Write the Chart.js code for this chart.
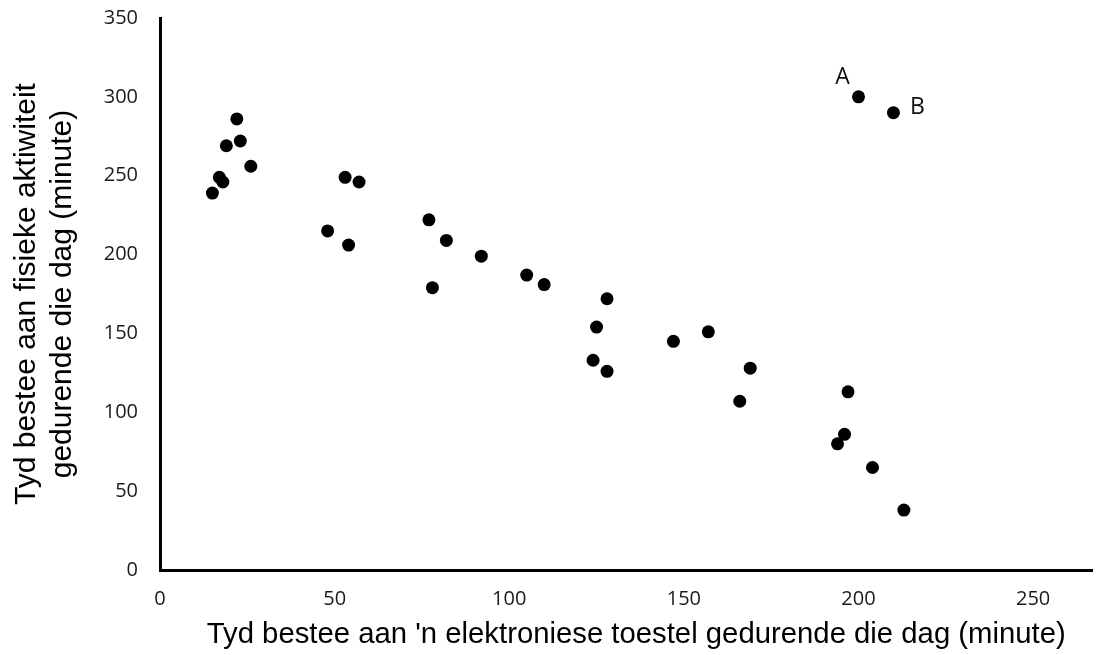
<!DOCTYPE html>
<html>
<head>
<meta charset="utf-8">
<script src="https://cdn.jsdelivr.net/npm/chart.js@4"></script>
<style>
  html, body { margin: 0; padding: 0; background: #fff; }
  #wrap { width: 1099px; height: 655px; }
</style>
</head>
<body>
<div id="wrap"><canvas id="myChart"></canvas></div>
<script>
// time on device (x) and physical activity (y), in minutes
const xVals = [22, 19, 23, 26, 17, 18, 15, 53, 57, 48, 54, 77, 82, 92, 78, 105, 110, 128, 125, 124, 128, 147, 157, 169, 166, 197, 196, 194, 204, 213, 200, 210];
const yVals = [286, 269, 272, 256, 249, 246, 239, 249, 246, 215, 206, 222, 209, 199, 179, 187, 181, 172, 154, 133, 126, 145, 151, 128, 107, 113, 86, 80, 65, 38, 300, 290];
// the two labelled points are the last two
const markNames = ['A', 'B'];
const xTitle = "Tyd bestee aan 'n elektroniese toestel gedurende die dag (minute)";
const yTitle = ['Tyd bestee aan fisieke aktiwiteit', 'gedurende die dag (minute)'];

let points = [];
for (let i = 0; i < xVals.length; i++) {
	points.push({x: xVals[i], y: yVals[i]});
}

//writes A and B next to their points, and the x title (a bit right of centre, like the original)
const markPlugin = {
	id: 'marks',
	afterDatasetsDraw(chart) {
		const ctx = chart.ctx;
		const els = chart.getDatasetMeta(0).data;
		const offsets = [[-16, -19], [24, -5]];
		ctx.save();
		ctx.font = '23px "Open Sans"';
		ctx.fillStyle = '#111';
		ctx.textAlign = 'center';
		ctx.textBaseline = 'middle';
		for (let i = 0; i < markNames.length; i++) {
			const el = els[els.length - markNames.length + i];
			ctx.fillText(markNames[i], el.x + offsets[i][0], el.y + offsets[i][1]);
		}
		const area = chart.chartArea;
		ctx.font = '29.3px "Liberation Sans", Arial';
		ctx.fillStyle = '#000';
		ctx.textBaseline = 'alphabetic';
		ctx.fillText(xTitle, (area.left + area.right) / 2 + 10, 643);
		ctx.restore();
	}
};

const ctx = document.getElementById('myChart');
const myChart = new Chart(ctx, {
	type: 'scatter',
	data: {
		datasets: [{
			data: points,
			backgroundColor: '#000',
			borderColor: '#000',
			pointRadius: 6.5,
			pointBorderWidth: 0
		}]
	},
	options: {
		responsive: true,
		maintainAspectRatio: false,
		animation: false,
		layout: {
			padding: {top: 18, right: 2, left: 0, bottom: 0}
		},
		plugins: {
			legend: {display: false},
			tooltip: {enabled: false}
		},
		scales: {
			x: {
				type: 'linear',
				min: 0,
				max: 267,
				grid: {display: false, drawTicks: false},
				border: {display: true, color: '#000', width: 3},
				ticks: {
					stepSize: 50,
					includeBounds: false,
					padding: 17,
					color: '#1a1a1a',
					font: {family: '"Open Sans"', size: 20}
				},
				afterFit(scale) {
					scale.height = 85;
					scale.paddingLeft = 0;
					scale.paddingRight = 0;
				}
			},
			y: {
				min: 0,
				max: 350,
				grid: {display: false, drawTicks: false},
				border: {display: true, color: '#000', width: 3},
				ticks: {
					stepSize: 50,
					padding: 22,
					color: '#1a1a1a',
					font: {family: '"Open Sans"', size: 20}
				},
				title: {
					display: true,
					text: yTitle,
					color: '#000',
					padding: {top: 9, bottom: 0},
					font: {family: '"Liberation Sans", Arial', size: 30}
				},
				afterFit(scale) {
					scale.width = 160;
					scale.paddingTop = 0;
					scale.paddingBottom = 0;
				}
			}
		}
	},
	plugins: [markPlugin]
});
</script>
</body>
</html>
